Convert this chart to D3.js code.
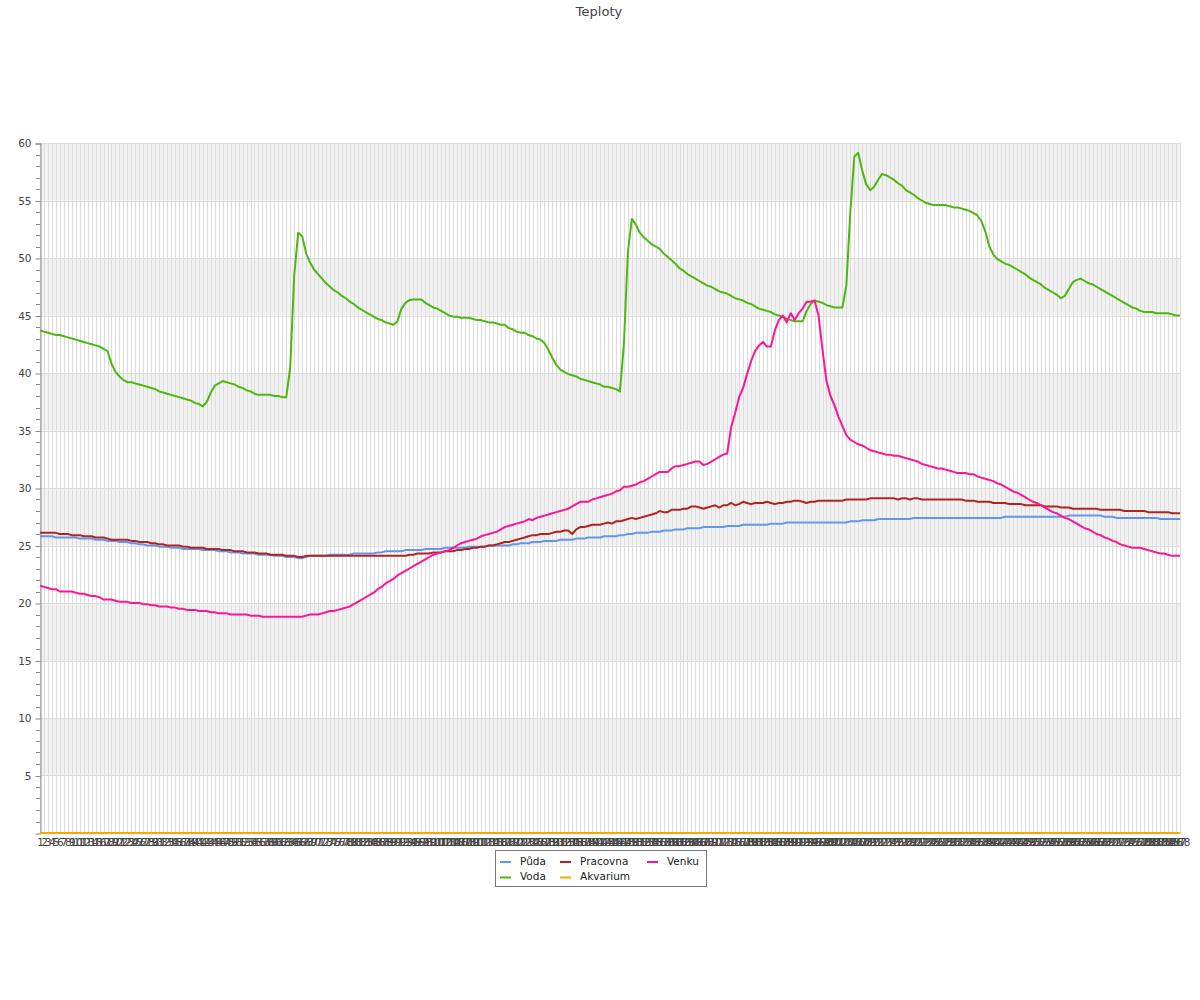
<!DOCTYPE html>
<html><head><meta charset="utf-8">
<script src="https://cdn.jsdelivr.net/npm/d3@7"></script>
<style>body{margin:0;background:#fff;}svg{display:block}</style>
</head><body><svg id="c" width="1200" height="1000"></svg>
<script>
const categories = d3.range(1, 289);
const yTicks = [5,10,15,20,25,30,35,40,45,50,55,60];
const seriesNames = ["Půda","Voda","Pracovna","Akvarium","Venku"];
const seriesColors = ["#6495ed","#4cb80f","#b22222","#ffa500","#ff1493"];

const puda = [
25.8,25.8,25.8,25.8,25.7,25.7,25.7,25.7,25.7,25.7,
25.6,25.6,25.6,25.6,25.5,25.5,25.5,25.4,25.4,25.4,
25.3,25.3,25.3,25.2,25.2,25.1,25.1,25.0,25.0,25.0,
24.9,24.9,24.9,24.8,24.8,24.8,24.7,24.7,24.7,24.7,
24.7,24.6,24.6,24.6,24.6,24.5,24.5,24.5,24.4,24.4,
24.4,24.3,24.3,24.3,24.3,24.2,24.2,24.2,24.2,24.1,
24.1,24.1,24.0,24.0,24.0,23.9,23.9,24.0,24.1,24.1,
24.1,24.1,24.1,24.2,24.2,24.2,24.2,24.2,24.2,24.3,
24.3,24.3,24.3,24.3,24.3,24.4,24.4,24.5,24.5,24.5,
24.5,24.5,24.6,24.6,24.6,24.6,24.6,24.7,24.7,24.7,
24.7,24.7,24.8,24.8,24.8,24.8,24.8,24.8,24.9,24.9,
24.9,24.9,24.9,25.0,25.0,25.0,25.0,25.0,25.0,25.1,
25.1,25.2,25.2,25.2,25.3,25.3,25.3,25.4,25.4,25.4,
25.4,25.5,25.5,25.5,25.5,25.6,25.6,25.6,25.7,25.7,
25.7,25.7,25.8,25.8,25.8,25.8,25.9,25.9,26.0,26.0,
26.1,26.1,26.1,26.1,26.2,26.2,26.2,26.3,26.3,26.3,
26.4,26.4,26.4,26.5,26.5,26.5,26.5,26.6,26.6,26.6,
26.6,26.6,26.6,26.7,26.7,26.7,26.7,26.8,26.8,26.8,
26.8,26.8,26.8,26.8,26.9,26.9,26.9,26.9,27.0,27.0,
27.0,27.0,27.0,27.0,27.0,27.0,27.0,27.0,27.0,27.0,
27.0,27.0,27.0,27.0,27.1,27.1,27.1,27.2,27.2,27.2,
27.2,27.3,27.3,27.3,27.3,27.3,27.3,27.3,27.3,27.3,
27.4,27.4,27.4,27.4,27.4,27.4,27.4,27.4,27.4,27.4,
27.4,27.4,27.4,27.4,27.4,27.4,27.4,27.4,27.4,27.4,
27.4,27.4,27.4,27.5,27.5,27.5,27.5,27.5,27.5,27.5,
27.5,27.5,27.5,27.5,27.5,27.5,27.5,27.5,27.5,27.6,
27.6,27.6,27.6,27.6,27.6,27.6,27.6,27.6,27.5,27.5,
27.5,27.4,27.4,27.4,27.4,27.4,27.4,27.4,27.4,27.4,
27.4,27.4,27.3,27.3,27.3,27.3,27.3,27.3];

const voda = [
43.7,43.6,43.5,43.4,43.3,43.3,43.2,43.1,43.0,42.9,
42.8,42.7,42.6,42.5,42.4,42.3,42.1,41.9,40.8,40.1,
39.7,39.4,39.2,39.2,39.1,39.0,38.9,38.8,38.7,38.6,
38.4,38.3,38.2,38.1,38.0,37.9,37.8,37.7,37.6,37.4,
37.3,37.1,37.5,38.3,38.9,39.1,39.3,39.2,39.1,39.0,
38.8,38.7,38.5,38.4,38.2,38.1,38.1,38.1,38.1,38.0,
38.0,37.9,37.9,40.5,48.5,52.2,51.9,50.4,49.6,49.0,
48.6,48.2,47.8,47.5,47.2,47.0,46.7,46.5,46.2,46.0,
45.7,45.5,45.3,45.1,44.9,44.7,44.6,44.4,44.3,44.2,
44.5,45.6,46.1,46.35,46.4,46.4,46.4,46.1,45.9,45.7,
45.6,45.4,45.2,45.0,44.9,44.9,44.8,44.8,44.8,44.7,
44.6,44.6,44.5,44.4,44.4,44.3,44.2,44.2,43.9,43.8,
43.6,43.5,43.5,43.3,43.2,43.0,42.9,42.6,42.0,41.3,
40.7,40.3,40.1,39.9,39.8,39.7,39.5,39.4,39.3,39.2,
39.1,39.0,38.8,38.8,38.7,38.6,38.4,42.5,50.5,53.4,
52.9,52.2,51.8,51.5,51.2,51.0,50.8,50.4,50.1,49.8,
49.5,49.1,48.9,48.6,48.4,48.2,48.0,47.8,47.6,47.5,
47.3,47.1,47.0,46.9,46.7,46.5,46.4,46.3,46.1,46.0,
45.8,45.6,45.5,45.4,45.3,45.1,45.0,44.9,44.7,44.6,
44.5,44.5,44.5,45.4,46.0,46.3,46.2,46.1,45.9,45.8,
45.7,45.7,45.7,47.6,54.0,58.8,59.15,57.6,56.4,55.9,
56.2,56.8,57.3,57.2,57.0,56.8,56.5,56.3,55.9,55.7,
55.5,55.2,55.0,54.8,54.7,54.6,54.6,54.6,54.6,54.5,
54.4,54.4,54.3,54.2,54.1,53.9,53.7,53.2,52.3,51.0,
50.3,49.9,49.7,49.5,49.4,49.2,49.0,48.8,48.6,48.3,
48.1,47.9,47.7,47.4,47.2,47.0,46.8,46.5,46.7,47.3,
47.9,48.1,48.2,48.0,47.8,47.7,47.5,47.3,47.1,46.9,
46.7,46.5,46.3,46.1,45.9,45.7,45.6,45.4,45.3,45.3,
45.3,45.2,45.2,45.2,45.2,45.1,45.0,45.0];

const pracovna = [
26.1,26.1,26.1,26.1,26.1,26.0,26.0,26.0,25.9,25.9,
25.9,25.8,25.8,25.8,25.7,25.7,25.7,25.6,25.5,25.5,
25.5,25.5,25.5,25.4,25.4,25.3,25.3,25.3,25.2,25.2,
25.1,25.1,25.0,25.0,25.0,25.0,24.9,24.9,24.8,24.8,
24.8,24.8,24.7,24.7,24.7,24.7,24.6,24.6,24.6,24.5,
24.5,24.5,24.4,24.4,24.4,24.3,24.3,24.3,24.2,24.2,
24.2,24.2,24.1,24.1,24.1,24.0,24.0,24.1,24.1,24.1,
24.1,24.1,24.1,24.1,24.1,24.1,24.1,24.1,24.1,24.1,
24.1,24.1,24.1,24.1,24.1,24.1,24.1,24.1,24.1,24.1,
24.1,24.1,24.1,24.2,24.2,24.3,24.3,24.3,24.3,24.4,
24.4,24.4,24.5,24.5,24.5,24.6,24.6,24.7,24.7,24.8,
24.8,24.9,24.9,25.0,25.0,25.1,25.2,25.3,25.3,25.4,
25.5,25.6,25.7,25.8,25.9,25.9,26.0,26.0,26.0,26.1,
26.2,26.2,26.3,26.3,26.0,26.4,26.6,26.6,26.7,26.8,
26.8,26.8,26.9,27.0,26.9,27.1,27.1,27.2,27.3,27.4,
27.3,27.4,27.5,27.6,27.7,27.8,28.0,27.9,27.9,28.1,
28.1,28.1,28.2,28.2,28.4,28.4,28.3,28.2,28.3,28.4,
28.5,28.3,28.5,28.5,28.7,28.5,28.6,28.8,28.7,28.6,
28.7,28.7,28.7,28.8,28.7,28.6,28.7,28.7,28.8,28.8,
28.9,28.9,28.8,28.7,28.8,28.8,28.9,28.9,28.9,28.9,
28.9,28.9,28.9,29.0,29.0,29.0,29.0,29.0,29.0,29.1,
29.1,29.1,29.1,29.1,29.1,29.1,29.0,29.1,29.1,29.0,
29.1,29.1,29.0,29.0,29.0,29.0,29.0,29.0,29.0,29.0,
29.0,29.0,29.0,28.9,28.9,28.9,28.8,28.8,28.8,28.8,
28.7,28.7,28.7,28.7,28.6,28.6,28.6,28.6,28.5,28.5,
28.5,28.5,28.5,28.4,28.4,28.4,28.4,28.3,28.3,28.3,
28.2,28.2,28.2,28.2,28.2,28.2,28.2,28.1,28.1,28.1,
28.1,28.1,28.1,28.0,28.0,28.0,28.0,28.0,28.0,27.9,
27.9,27.9,27.9,27.9,27.9,27.8,27.8,27.8];

const akvarium = [
0,0,0,0,0,0,0,0,0,0, 0,0,0,0,0,0,0,0,0,0, 0,0,0,0,0,0,0,0,0,0,
0,0,0,0,0,0,0,0,0,0, 0,0,0,0,0,0,0,0,0,0, 0,0,0,0,0,0,0,0,0,0,
0,0,0,0,0,0,0,0,0,0, 0,0,0,0,0,0,0,0,0,0, 0,0,0,0,0,0,0,0,0,0,
0,0,0,0,0,0,0,0,0,0, 0,0,0,0,0,0,0,0,0,0, 0,0,0,0,0,0,0,0,0,0,
0,0,0,0,0,0,0,0,0,0, 0,0,0,0,0,0,0,0,0,0, 0,0,0,0,0,0,0,0,0,0,
0,0,0,0,0,0,0,0,0,0, 0,0,0,0,0,0,0,0,0,0, 0,0,0,0,0,0,0,0,0,0,
0,0,0,0,0,0,0,0,0,0, 0,0,0,0,0,0,0,0,0,0, 0,0,0,0,0,0,0,0,0,0,
0,0,0,0,0,0,0,0,0,0, 0,0,0,0,0,0,0,0,0,0, 0,0,0,0,0,0,0,0,0,0,
0,0,0,0,0,0,0,0,0,0, 0,0,0,0,0,0,0,0,0,0, 0,0,0,0,0,0,0,0,0,0,
0,0,0,0,0,0,0,0,0,0, 0,0,0,0,0,0,0,0];

const venku = [
21.5,21.4,21.3,21.2,21.2,21.0,21.0,21.0,21.0,20.9,
20.8,20.8,20.7,20.6,20.6,20.5,20.3,20.3,20.3,20.2,
20.1,20.1,20.1,20.0,20.0,20.0,19.9,19.9,19.8,19.8,
19.7,19.7,19.7,19.6,19.6,19.5,19.5,19.4,19.4,19.4,
19.3,19.3,19.3,19.2,19.2,19.1,19.1,19.1,19.0,19.0,
19.0,19.0,19.0,18.9,18.9,18.9,18.8,18.8,18.8,18.8,
18.8,18.8,18.8,18.8,18.8,18.8,18.8,18.9,19.0,19.0,
19.0,19.1,19.2,19.3,19.3,19.4,19.5,19.6,19.7,19.9,
20.1,20.3,20.5,20.7,20.9,21.2,21.4,21.7,21.9,22.1,
22.4,22.6,22.8,23.0,23.2,23.4,23.6,23.8,24.0,24.2,
24.3,24.4,24.5,24.6,24.8,25.0,25.2,25.3,25.4,25.5,
25.6,25.8,25.9,26.0,26.1,26.2,26.4,26.6,26.7,26.8,
26.9,27.0,27.1,27.3,27.2,27.4,27.5,27.6,27.7,27.8,
27.9,28.0,28.1,28.2,28.4,28.6,28.8,28.8,28.8,29.0,
29.1,29.2,29.3,29.4,29.5,29.7,29.8,30.1,30.1,30.2,
30.3,30.5,30.6,30.8,31.0,31.2,31.4,31.4,31.4,31.7,
31.9,31.9,32.0,32.1,32.2,32.3,32.3,32.0,32.1,32.3,
32.5,32.7,32.9,33.0,35.3,36.5,37.9,38.7,39.9,41.0,
41.9,42.4,42.7,42.3,42.3,43.7,44.6,45.0,44.4,45.2,
44.6,45.2,45.6,46.2,46.2,46.3,45.0,42.0,39.3,38.0,
37.2,36.2,35.4,34.6,34.2,34.0,33.8,33.7,33.5,33.3,
33.2,33.1,33.0,32.9,32.9,32.8,32.8,32.7,32.6,32.5,
32.4,32.3,32.1,32.0,31.9,31.8,31.7,31.7,31.6,31.5,
31.4,31.3,31.3,31.3,31.2,31.2,31.0,30.9,30.8,30.7,
30.6,30.4,30.3,30.1,29.9,29.7,29.6,29.4,29.2,29.0,
28.8,28.7,28.5,28.3,28.1,27.9,27.8,27.6,27.4,27.3,
27.1,26.9,26.7,26.5,26.4,26.2,26.0,25.9,25.7,25.6,
25.4,25.3,25.1,25.0,24.9,24.8,24.8,24.8,24.7,24.6,
24.5,24.4,24.3,24.3,24.2,24.1,24.1,24.1];

const seriesData = [puda, voda, pracovna, akvarium, venku];

const FONT = '"DejaVu Sans", sans-serif';
const svg = d3.select("#c");
const L = 40, R = 1180, T = 143, B = 833;
const x = d3.scalePoint().domain(categories).range([L, R]);
const y = d3.scaleLinear().domain([0, 60]).range([B, T]);

// title
svg.append("text").attr("x", 599).attr("y", 16).attr("text-anchor", "middle")
  .attr("font-family", FONT).attr("font-size", 13).attr("fill", "#444").text("Teploty");

// bands
const bands = d3.range(0, 60, 5).filter(v => (v / 5) % 2 === 1);
svg.append("g").selectAll("rect").data(bands).join("rect")
  .attr("x", L).attr("width", R - L + 1)
  .attr("y", d => y(d + 5)).attr("height", d => y(d) - y(d + 5))
  .attr("fill", "#f2f2f2");

// vertical grid
svg.append("g").selectAll("line").data(categories).join("line")
  .attr("x1", d => Math.round(x(d)) + 0.5).attr("x2", d => Math.round(x(d)) + 0.5)
  .attr("y1", T).attr("y2", B)
  .attr("stroke", "#dcdcdc").attr("stroke-width", 1);

// horizontal grid
svg.append("g").selectAll("line").data(yTicks).join("line")
  .attr("x1", L).attr("x2", R + 1)
  .attr("y1", d => Math.round(y(d)) + 0.5).attr("y2", d => Math.round(y(d)) + 0.5)
  .attr("stroke", "#dcdcdc").attr("stroke-width", 1);

// y axis
const yAxis = d3.axisLeft(y).tickValues(yTicks).tickSize(5).tickPadding(4);
const gy = svg.append("g").attr("transform", `translate(${L + 0.5},0.5)`).call(yAxis);
gy.select(".domain").attr("stroke", "#888");
gy.selectAll(".tick line").attr("stroke", "#888");
gy.selectAll(".tick text").attr("font-family", FONT).attr("font-size", 10.5).attr("fill", "#444");
const minor = d3.range(0, 61, 1).filter(v => v % 5 !== 0);
svg.append("g").selectAll("line").data(minor).join("line")
  .attr("x1", L - 4).attr("x2", L)
  .attr("y1", d => Math.round(y(d)) + 0.5).attr("y2", d => Math.round(y(d)) + 0.5)
  .attr("stroke", "#888");

// x axis labels
const xAxis = d3.axisBottom(x).tickSize(0).tickPadding(6);
const gx = svg.append("g").attr("transform", `translate(0,${B})`).call(xAxis);
gx.select(".domain").remove();
gx.selectAll(".tick text").attr("font-family", FONT).attr("font-size", 10.5).attr("fill", "#444");

// lines
const line = d3.line().x((d, i) => x(categories[i])).y(d => y(d));
svg.append("g").selectAll("path").data(seriesData).join("path")
  .attr("d", d => line(d)).attr("fill", "none")
  .attr("stroke", (d, i) => seriesColors[i]).attr("stroke-width", 2)
  .attr("stroke-linejoin", "round");

// legend
const lg = svg.append("g");
lg.append("rect").attr("x", 495.5).attr("y", 850.5).attr("width", 211).attr("height", 36)
  .attr("fill", "#fff").attr("stroke", "#777");
const colX = [500, 560, 647];
const rowY = [862, 877.5];
seriesNames.forEach((n, i) => {
  const c = Math.floor(i / 2), r = i % 2;
  lg.append("line").attr("x1", colX[c]).attr("x2", colX[c] + 11)
    .attr("y1", rowY[r]).attr("y2", rowY[r])
    .attr("stroke", seriesColors[i]).attr("stroke-width", 2);
  lg.append("text").attr("x", colX[c] + 20).attr("y", rowY[r] + 2.5)
    .attr("font-family", FONT).attr("font-size", 10.5).attr("fill", "#222").text(n);
});
</script></body></html>
